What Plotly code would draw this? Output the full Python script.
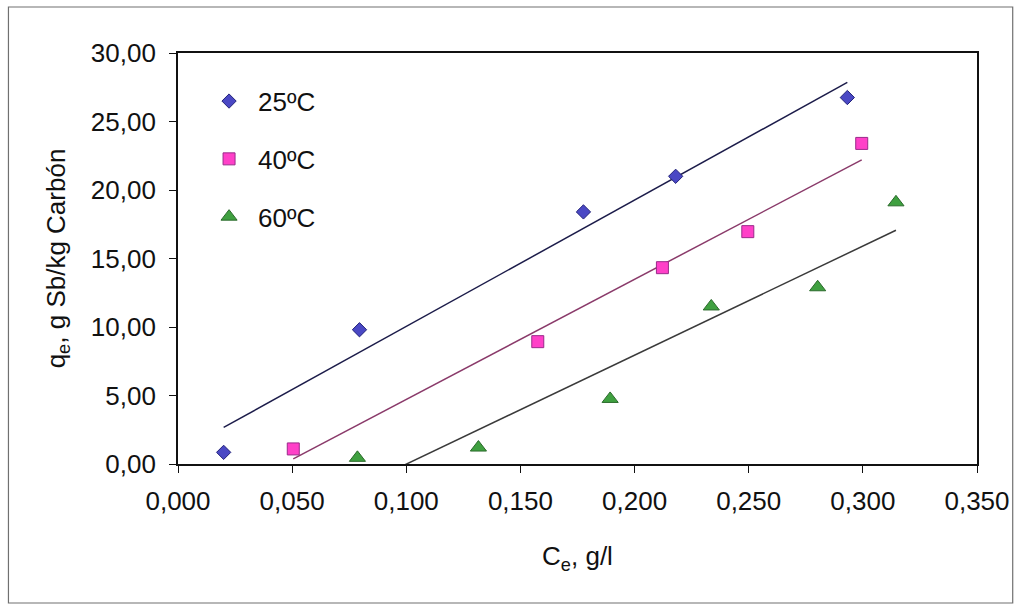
import numpy as np
import plotly.graph_objects as go

# ---- data ----
names = ["25ºC", "40ºC", "60ºC"]
ce_25 = [0.020, 0.0795, 0.1776, 0.2180, 0.2932]
qe_25 = [0.85, 9.80, 18.40, 21.00, 26.75]
ce_40 = [0.0505, 0.1576, 0.2122, 0.2496, 0.2995]
qe_40 = [1.10, 8.93, 14.33, 16.96, 23.40]
ce_60 = [0.0786, 0.1316, 0.1893, 0.2336, 0.2802, 0.3145]
qe_60 = [0.45, 1.20, 4.75, 11.50, 12.90, 19.10]

x_ticks = [0.0, 0.05, 0.10, 0.15, 0.20, 0.25, 0.30, 0.35]
y_ticks = [0, 5, 10, 15, 20, 25, 30]

series = [
    (names[0], ce_25, qe_25, "diamond", 11, "#4a48c4", "#23237a", "#1c1c4a"),
    (names[1], ce_40, qe_40, "square", 12, "#ff40c8", "#9a2a8a", "#8a3a6a"),
    (names[2], ce_60, qe_60, "triangle-up", 14, "#3fa040", "#2b6a2b", "#3a3a3a"),
]

FONT = "Arial, Liberation Sans, sans-serif"
fig = go.Figure()

for i, (nm, xs, ys, sym, sz, fill, edge, lcol) in enumerate(series):
    xs_a = np.array(xs)
    ys_a = np.array(ys)
    slope, icpt = np.polyfit(xs_a, ys_a, 1)
    xl = np.array([xs_a.min(), xs_a.max()])
    fig.add_trace(go.Scatter(
        x=xl, y=slope * xl + icpt, mode="lines",
        line=dict(color=lcol, width=1.5), showlegend=False, hoverinfo="skip"))

for i, (nm, xs, ys, sym, sz, fill, edge, lcol) in enumerate(series):
    fig.add_trace(go.Scatter(
        x=xs, y=ys, mode="markers", name=nm, legendgroup=nm,
        marker=dict(symbol=sym, size=sz, color=fill,
                    line=dict(color=edge, width=1))))

axis_common = dict(
    showline=True, mirror=True, linecolor="#111111", linewidth=1.8,
    ticks="outside", ticklen=7, tickcolor="#111111", tickwidth=1,
    showgrid=False, zeroline=False,
    tickfont=dict(family=FONT, size=26, color="#111111"),
)

fig.update_layout(
    width=1022, height=607,
    margin=dict(l=178, r=38, t=53, b=143),
    paper_bgcolor="white", plot_bgcolor="white",
    separators=",.",
    font=dict(family=FONT, color="#111111"),
    xaxis=dict(range=[0, 0.35], tickvals=x_ticks, tickformat=".3f",
               ticklabelstandoff=6,
               title=dict(text="C<sub>e</sub>, g/l",
                          font=dict(family=FONT, size=26, color="#111111"),
                          standoff=32),
               **axis_common),
    yaxis=dict(range=[0, 30], tickvals=y_ticks, tickformat=".2f",
               ticklabelstandoff=8,
               title=dict(text="q<sub>e</sub>, g Sb/kg Carbón",
                          font=dict(family=FONT, size=26, color="#111111"),
                          standoff=18),
               **axis_common),
    legend=dict(x=0.0276, y=0.94, xanchor="left", yanchor="top",
                bgcolor="rgba(0,0,0,0)", borderwidth=0,
                font=dict(family=FONT, size=26, color="#111111"),
                tracegroupgap=21, itemwidth=48),
    shapes=[dict(type="rect", xref="paper", yref="paper",
                 x0=-0.2122, x1=1.0447, y0=-0.3382, y1=1.1119,
                 line=dict(color="#707070", width=1.2), layer="below")],
)

fig.write_html("out.html")
